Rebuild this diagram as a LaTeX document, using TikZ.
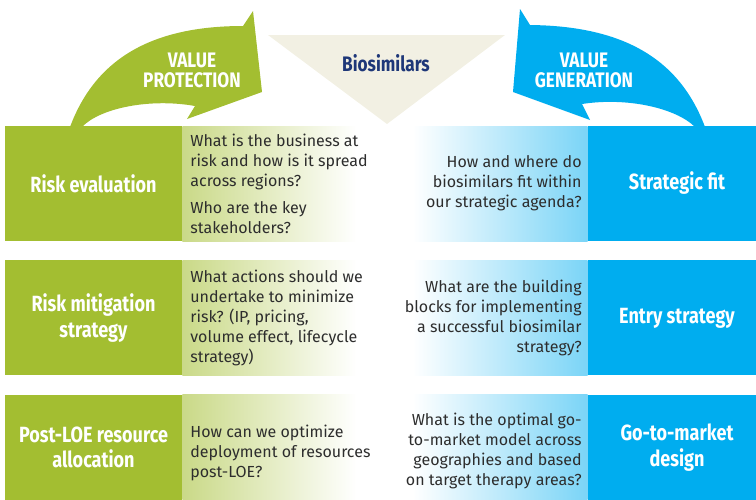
\documentclass[tikz,border=0pt]{standalone}
\usepackage{fontspec}
\setmainfont{Fira Sans}
\newfontfamily\labelfont[FakeStretch=0.82]{Fira Sans}
\usetikzlibrary{positioning}
\definecolor{protectgreen}{RGB}{163,190,49}
\definecolor{generateblue}{RGB}{0,173,239}
\definecolor{biobeige}{RGB}{242,240,227}
\definecolor{bionavy}{RGB}{30,55,120}
\definecolor{questiongray}{RGB}{45,45,45}

\begin{document}
\begin{tikzpicture}[x=1pt ,y=-1pt ,node distance =19pt and 0pt ,
greenbox/.style ={fill=protectgreen ,text=white ,minimum width =177pt ,
minimum height =115pt ,inner sep=0pt ,align=center ,
font=\labelfont\bfseries\fontsize{22}{26}\selectfont},
bluebox/.style ={greenbox ,fill=generateblue ,minimum width =178pt},
greenfade/.style ={left color=protectgreen!58 ,right color=white ,
minimum width =174pt ,minimum height =115pt ,inner sep=0pt},
bluefade/.style ={left color=white ,right color=generateblue!52 ,
minimum width =175pt ,minimum height =115pt ,inner sep=0pt},
question/.style ={text=questiongray ,inner sep=0pt ,
font=\fontsize{16}{20}\selectfont},
arrowlabel/.style ={text=white ,align=center ,
font=\labelfont\bfseries\fontsize{21}{20}\selectfont}]
\useasboundingbox (0,0) rectangle (756,499);
\clip (0,0) rectangle (756,499);
\fill[protectgreen] (70,127) .. controls (95,60) and (150,26) .. (243,26)
-- (253,11) -- (262,92) -- (187,119) -- (195,106)
.. controls (150,98) and (100,108) .. (82,127) -- cycle;
\fill[generateblue] (705,127) .. controls (680,60) and (625,26) .. (530,25)
-- (520,9) -- (513,92) -- (590,120) -- (582,104)
.. controls (627,97) and (676,108) .. (695,127) -- cycle;
\fill[biobeige] (268,35) -- (505,35) -- (387,124) -- cycle;
\node[arrowlabel] (protect) at (192,70) {VALUE\\PROTECTION};
\node[arrowlabel] (generate) at (584,70) {VALUE\\GENERATION};
\node[text=bionavy ,font=\labelfont\bfseries\fontsize{21}{24}\selectfont]
(bio) at (386,63) {Biosimilars};
\node[greenbox] (riskeval) at (93.5,183.5) {Risk evaluation};
\node[greenbox, below=of riskeval] (riskmit) {Risk mitigation\\strategy};
\node[greenbox, below=of riskmit ,minimum height =106pt ,
font=\labelfont\bfseries\fontsize{22}{25}\selectfont]
(postloe) {Post-LOE resource\\allocation};
\node[greenfade, right=of riskeval] (riskevalq) {};
\node[greenfade, right=of riskmit] (riskmitq) {};
\node[greenfade, right=of postloe ,minimum height =106pt] (postloeq) {};
\node[bluebox] (stratfit) at (677,183.5) {Strategic fit};
\node[bluebox, below=of stratfit] (entry) {Entry strategy};
\node[bluebox, below=of entry ,minimum height =106pt] (gtm) {Go-to-market\\design};
\node[bluefade, left=of stratfit] (stratfitq) {};
\node[bluefade, left=of entry] (entryq) {};
\node[bluefade, left=of gtm ,minimum height =106pt] (gtmq) {};
\node[question ,align=left ,right=8pt of riskevalq.west] (riskevalt)
{What is the business at\\risk and how is it spread\\across regions?\\[7pt]Who are the key\\stakeholders?};
\node[question ,align=left ,right=8pt of riskmitq.west] (riskmitt)
{What actions should we\\undertake to minimize\\risk? (IP, pricing,\\volume effect, lifecycle\\strategy)};
\node[question ,align=left ,right=8pt of postloeq.west ,yshift=-5pt] (postloet)
{How can we optimize\\deployment of resources\\post-LOE?};
\node[question ,align=right ,left=6pt of stratfitq.east] (stratfitt)
{How and where do\\biosimilars fit within\\our strategic agenda?};
\node[question ,align=right ,left=6pt of entryq.east] (entryt)
{What are the building\\blocks for implementing\\a successful biosimilar\\strategy?};
\node[question ,align=right ,left=6pt of gtmq.east ,yshift=-3pt] (gtmt)
{What is the optimal go-\\to-market model across\\geographies and based\\on target therapy areas?};
\end{tikzpicture}
\end{document}
